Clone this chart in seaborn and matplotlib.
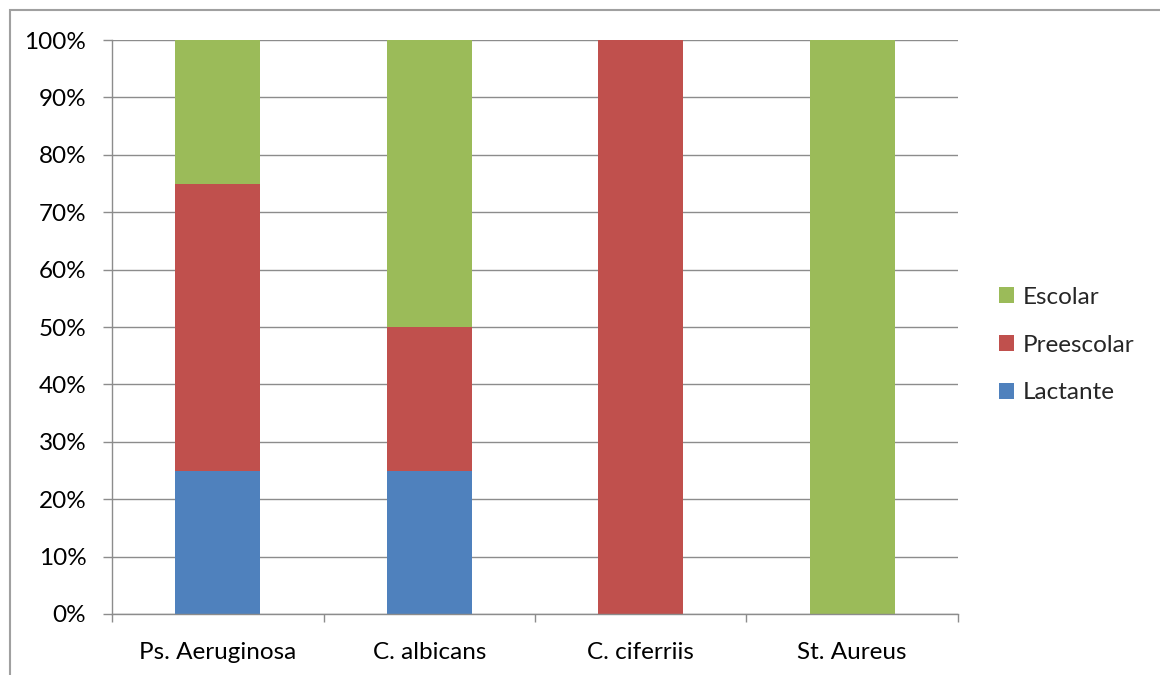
import matplotlib
matplotlib.use("Agg")
import matplotlib.pyplot as plt
import matplotlib.ticker as mticker
from matplotlib.patches import Rectangle, Patch
import numpy as np
import pandas as pd
import seaborn as sns

sns.set_theme(style="white")
plt.rcParams['font.family'] = ['Lato', 'DejaVu Sans']

categories = ["Ps. Aeruginosa", "C. albicans", "C. ciferriis", "St. Aureus"]
lactante = [25, 25, 0, 0]
preescolar = [50, 25, 100, 0]
escolar = [25, 50, 0, 100]

series_names = ["Lactante", "Preescolar", "Escolar"]
series_colors = ["#4F81BD", "#C0504D", "#9BBB59"]

df = pd.DataFrame({"Organismo": categories, "Lactante": lactante,
                   "Preescolar": preescolar, "Escolar": escolar})
totals = df[series_names].sum(axis=1)
for name in series_names:
    df[name] = df[name] / totals

fig = plt.figure(figsize=(11.6, 6.75), dpi=100)
ax = fig.add_axes([112 / 1160, 1 - 614 / 675, (958 - 112) / 1160, (614 - 40) / 675])

bottom = np.zeros(len(categories))
for name, color in zip(series_names, series_colors):
    sns.barplot(x="Organismo", y=name, data=df, color=color, width=0.4,
                bottom=bottom, ax=ax, saturation=1, edgecolor="none",
                linewidth=0, errorbar=None)
    bottom = bottom + df[name].values

grid_col = "#8C8C8C"
fs = 17.5
ax.set_xlim(-0.5, len(categories) - 0.5)
ax.set_ylim(0, 1)
ax.yaxis.set_major_locator(mticker.MultipleLocator(0.1))
ax.yaxis.set_major_formatter(mticker.PercentFormatter(1.0, decimals=0))
ax.yaxis.grid(True, color=grid_col, linewidth=1)
ax.set_axisbelow(True)
ax.set_xlabel("")
ax.set_ylabel("")

for side in ["top", "right"]:
    ax.spines[side].set_visible(False)
for side in ["left", "bottom"]:
    ax.spines[side].set_color(grid_col)
    ax.spines[side].set_linewidth(1)

ax.tick_params(axis="y", left=True, length=6.5, width=1, color=grid_col,
               labelsize=fs, pad=12, labelcolor="black")
ax.set_xticks(np.arange(-0.5, len(categories)), minor=True)
ax.tick_params(axis="x", which="major", bottom=False, length=0,
               labelsize=fs, pad=20, labelcolor="black")
ax.tick_params(axis="x", which="minor", bottom=True, length=5.5, width=1,
               color=grid_col)

handles = [Patch(facecolor=c, edgecolor="none", label=n)
           for n, c in zip(series_names, series_colors)][::-1]
fig.legend(handles=handles, loc="center left", bbox_to_anchor=(999 / 1160, 1 - 345 / 675),
           frameon=False, fontsize=fs, handlelength=0.62, handleheight=0.62,
           handletextpad=0.35, labelspacing=1.1, borderaxespad=0, borderpad=0)

fig.patches.append(Rectangle((10 / 1160, -0.1), 1.2, 1 - 10 / 675 + 0.1,
                             transform=fig.transFigure, fill=False,
                             edgecolor="#A0A0A0", linewidth=1.5))

fig.savefig("out.png", dpi=100, facecolor="white")
